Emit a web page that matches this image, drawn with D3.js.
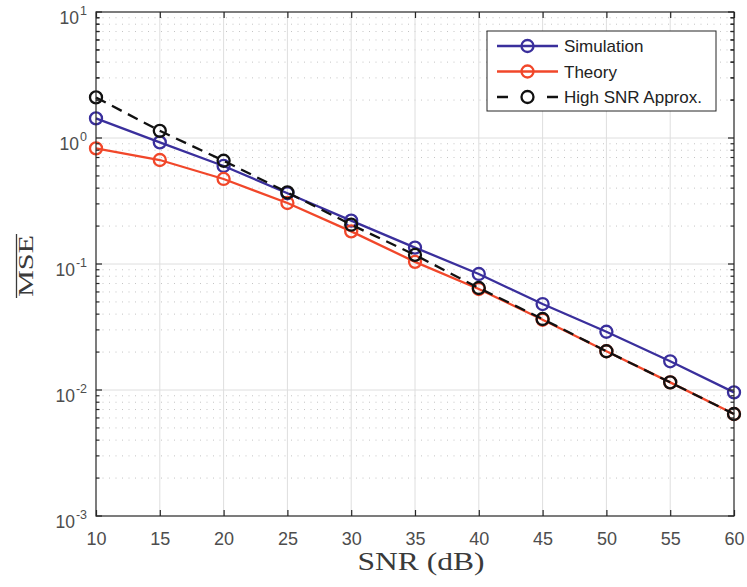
<!DOCTYPE html>
<html>
<head>
<meta charset="utf-8">
<script src="https://cdn.jsdelivr.net/npm/d3@7"></script>
<style>
  html, body { margin: 0; padding: 0; background: #fff; }
  svg { display: block; }
</style>
</head>
<body>
<svg id="chart" width="747" height="587"></svg>
<script>
// SNR sweep (dB) and MSE curves
const snr = [10, 15, 20, 25, 30, 35, 40, 45, 50, 55, 60];
const simulation = [1.43, 0.923, 0.60, 0.364, 0.221, 0.135, 0.0833, 0.0481, 0.029, 0.0169, 0.00957];
const theory = [0.827, 0.669, 0.473, 0.305, 0.1815, 0.104, 0.0633, 0.0361, 0.0203, 0.0115, 0.00645];
const highSnr = [2.10, 1.14, 0.66, 0.37, 0.205, 0.118, 0.0645, 0.0366, 0.0203, 0.0115, 0.00645];

const xTicks = [10, 15, 20, 25, 30, 35, 40, 45, 50, 55, 60];
const yExponents = [-3, -2, -1, 0, 1];

const seriesNames = ["Simulation", "Theory", "High SNR Approx."];
const seriesColors = ["#3a2f9c", "#f1472a", "#111111"];

const svg = d3.select("#chart");
const plotLeft = 96, plotRight = 734, plotTop = 12, plotBottom = 516;

const x = d3.scaleLinear().domain([10, 60]).range([plotLeft, plotRight]);
const y = d3.scaleLog().domain([1e-3, 1e1]).range([plotBottom, plotTop]);

const axisColor = "#262626";
const labelColor = "#4d4d4d";
const sansFont = "Liberation Sans, Arial, Helvetica, sans-serif";
const serifFont = "Liberation Serif, Times New Roman, serif";

// minor grid (dotted) for log y
const minorVals = [];
for (let e = -3; e < 1; e++) {
  for (let m = 2; m <= 9; m++) minorVals.push(m * Math.pow(10, e));
}
svg.append("g").selectAll("line").data(minorVals).join("line")
  .attr("x1", plotLeft).attr("x2", plotRight)
  .attr("y1", d => y(d)).attr("y2", d => y(d))
  .attr("stroke", "#c4c4c4").attr("stroke-width", 1)
  .attr("stroke-dasharray", "1,5.5");

// major grid
svg.append("g").selectAll("line").data(xTicks.slice(1, -1)).join("line")
  .attr("x1", d => x(d)).attr("x2", d => x(d))
  .attr("y1", plotTop).attr("y2", plotBottom)
  .attr("stroke", "#dedede").attr("stroke-width", 1);
svg.append("g").selectAll("line").data(yExponents.slice(1, -1)).join("line")
  .attr("x1", plotLeft).attr("x2", plotRight)
  .attr("y1", d => y(Math.pow(10, d))).attr("y2", d => y(Math.pow(10, d)))
  .attr("stroke", "#dedede").attr("stroke-width", 1);

// curves with open circle markers
const allSeries = [simulation, theory, highSnr];
const line = d3.line().x((d, i) => x(snr[i])).y(d => y(d));
allSeries.forEach((vals, k) => {
  const g = svg.append("g");
  g.append("path").datum(vals)
    .attr("d", line)
    .attr("fill", "none")
    .attr("stroke", seriesColors[k])
    .attr("stroke-width", 2.3)
    .attr("stroke-dasharray", k === 2 ? "11,7" : null);
  g.selectAll("circle").data(vals).join("circle")
    .attr("cx", (d, i) => x(snr[i])).attr("cy", d => y(d))
    .attr("r", 6)
    .attr("fill", "none")
    .attr("stroke", seriesColors[k])
    .attr("stroke-width", 2.3);
});

// axes box
svg.append("rect")
  .attr("x", plotLeft).attr("y", plotTop)
  .attr("width", plotRight - plotLeft).attr("height", plotBottom - plotTop)
  .attr("fill", "none").attr("stroke", axisColor).attr("stroke-width", 1.2);

// x ticks (inward, top and bottom)
const xAxisB = d3.axisBottom(x).tickValues(xTicks).tickSizeInner(-6).tickSizeOuter(0);
const gxb = svg.append("g").attr("transform", `translate(0,${plotBottom})`).call(xAxisB);
gxb.select(".domain").remove();
gxb.selectAll(".tick line").attr("stroke", axisColor).attr("stroke-width", 1.2);
gxb.selectAll(".tick text")
  .attr("fill", labelColor)
  .attr("font-family", sansFont)
  .attr("font-size", 18)
  .attr("dy", 0).attr("y", 29);

const xAxisT = d3.axisTop(x).tickValues(xTicks).tickSizeInner(-6).tickSizeOuter(0).tickFormat("");
const gxt = svg.append("g").attr("transform", `translate(0,${plotTop})`).call(xAxisT);
gxt.select(".domain").remove();
gxt.selectAll(".tick line").attr("stroke", axisColor).attr("stroke-width", 1.2);

// y ticks: major and minor, left and right
const majorVals = yExponents.map(e => Math.pow(10, e));
const minorTickVals = minorVals.concat([2, 3, 4, 5, 6, 7, 8, 9]);
[[plotLeft, 1], [plotRight, -1]].forEach(([xp, dir]) => {
  const g = svg.append("g");
  g.selectAll("line.maj").data(majorVals).join("line").attr("class", "maj")
    .attr("x1", xp).attr("x2", xp + dir * 6)
    .attr("y1", d => y(d)).attr("y2", d => y(d))
    .attr("stroke", axisColor).attr("stroke-width", 1.2);
  g.selectAll("line.min").data(minorTickVals).join("line").attr("class", "min")
    .attr("x1", xp).attr("x2", xp + dir * 3.5)
    .attr("y1", d => y(d)).attr("y2", d => y(d))
    .attr("stroke", axisColor).attr("stroke-width", 1.2);
});

// y tick labels 10^n
const yl = svg.append("g");
yExponents.forEach(e => {
  const t = yl.append("text")
    .attr("x", 87).attr("y", y(Math.pow(10, e)) + 12)
    .attr("text-anchor", "end")
    .attr("fill", labelColor)
    .attr("font-family", sansFont)
    .attr("font-size", 17.5);
  t.append("tspan").text("10");
  t.append("tspan").attr("dy", -9).attr("dx", 1).attr("font-size", 12.5).text(String(e));
});

// axis titles
svg.append("text")
  .attr("x", 421).attr("y", 569.5)
  .attr("text-anchor", "middle")
  .attr("fill", "#3a3a3a")
  .attr("font-family", serifFont)
  .attr("font-size", 25)
  .attr("textLength", 127)
  .attr("lengthAdjust", "spacingAndGlyphs")
  .text("SNR (dB)");

const yt = svg.append("g").attr("transform", `translate(33,${y(0.1) + 2}) rotate(-90)`);
yt.append("text")
  .attr("x", 0).attr("y", 0)
  .attr("text-anchor", "middle")
  .attr("fill", "#3a3a3a")
  .attr("font-family", serifFont)
  .attr("font-size", 22)
  .attr("textLength", 62)
  .attr("lengthAdjust", "spacingAndGlyphs")
  .text("MSE");
yt.append("line")
  .attr("x1", -32).attr("x2", 32)
  .attr("y1", -16.5).attr("y2", -16.5)
  .attr("stroke", "#3a3a3a").attr("stroke-width", 1.3);

// legend
const lg = svg.append("g");
lg.append("rect")
  .attr("x", 487).attr("y", 31).attr("width", 229).attr("height", 80)
  .attr("fill", "#fff").attr("stroke", axisColor).attr("stroke-width", 1);
seriesNames.forEach((name, k) => {
  const cy = 46 + k * 25.5;
  lg.append("line")
    .attr("x1", 497).attr("x2", 558).attr("y1", cy).attr("y2", cy)
    .attr("stroke", seriesColors[k]).attr("stroke-width", 2.3)
    .attr("stroke-dasharray", k === 2 ? "11,39,11" : null);
  lg.append("circle")
    .attr("cx", 527.5).attr("cy", cy).attr("r", 6)
    .attr("fill", "none").attr("stroke", seriesColors[k]).attr("stroke-width", 2.3);
  lg.append("text")
    .attr("x", 564).attr("y", cy + 6)
    .attr("fill", "#222")
    .attr("font-family", sansFont)
    .attr("font-size", 17)
    .text(name);
});
</script>
</body>
</html>
